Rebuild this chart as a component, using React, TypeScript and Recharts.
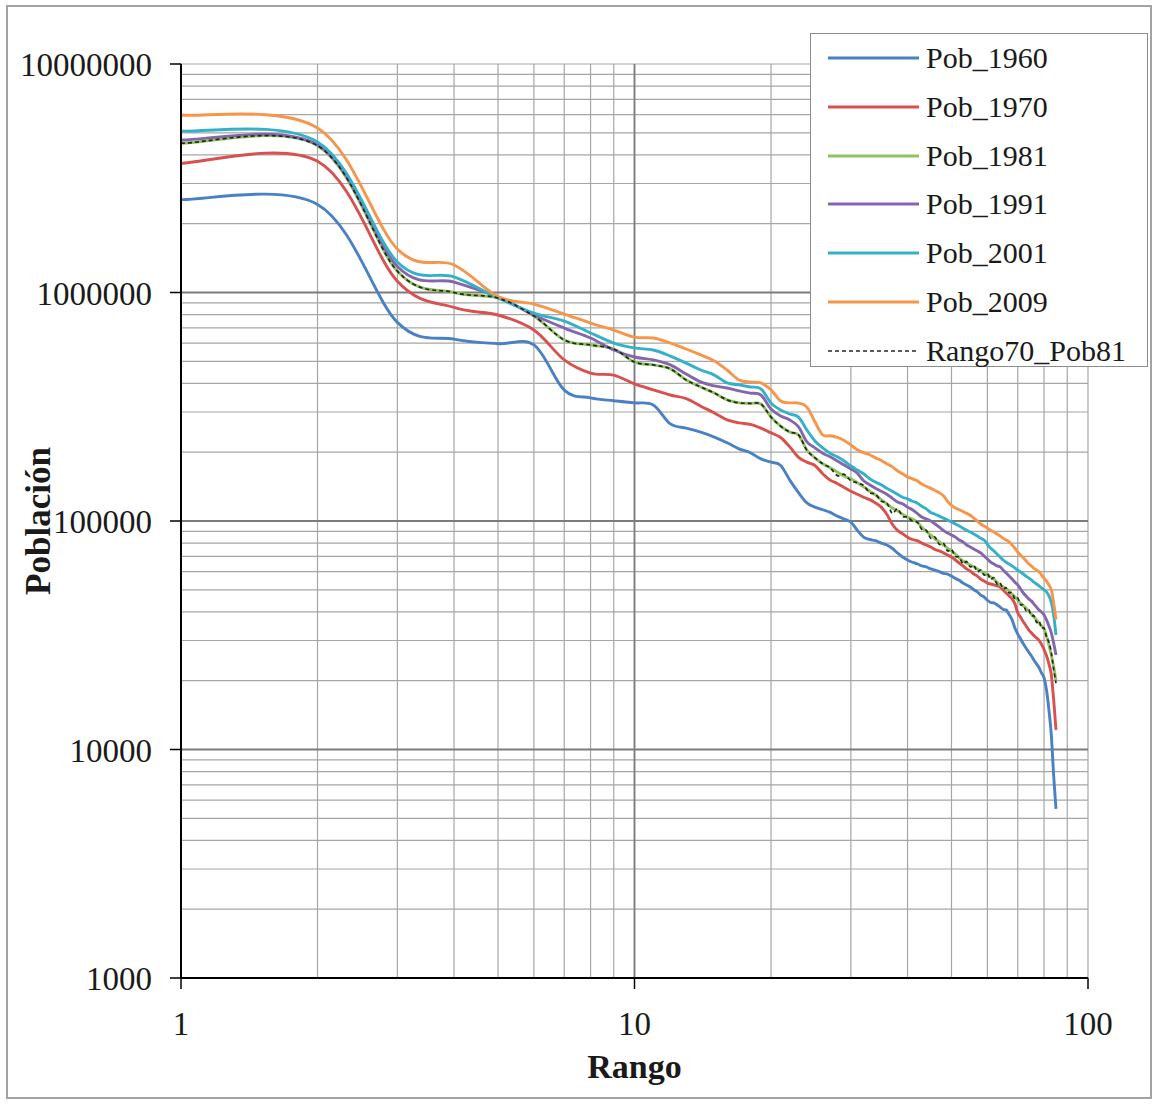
import { LineChart, Line, XAxis, YAxis, CartesianGrid, Legend, Label, ReferenceLine } from 'recharts';

/**
 * Rank-size chart: población por rango (log-log)
 */

const SERIF = '"Liberation Serif", "Times New Roman", serif';

const RANKS = [
  1, 2, 3, 4, 5, 6, 7, 8, 9, 10, 11, 12, 13, 14, 15, 16, 17, 18, 19, 20,
  21, 22, 23, 24, 25, 26, 27, 28, 29, 30, 31, 32, 33, 34, 35, 36, 37, 38, 39, 40,
  41, 42, 43, 44, 45, 46, 47, 48, 49, 50, 51, 52, 53, 54, 55, 56, 57, 58, 59, 60,
  61, 62, 63, 64, 65, 66, 67, 68, 69, 70, 71, 72, 73, 74, 75, 76, 77, 78, 79, 80,
  81, 82, 83, 84, 85,
];

const POB_1960 = [
  2550000, 2430000, 740000, 625000, 597000, 590000, 374000, 346000, 336000, 329000,
  322000, 266000, 255000, 245000, 233000, 220000, 207000, 199000, 187000, 181000,
  175000, 151000, 133000, 120000, 115000, 112000, 109000, 105000, 102000, 99000,
  91000, 85000, 83000, 82000, 80000, 78500, 76000, 72500, 69600, 67500,
  66000, 65000, 63600, 63000, 61700, 61000, 60000, 59000, 58600, 57400,
  56000, 55000, 53500, 52500, 51400, 50000, 49000, 47400, 46500, 45000,
  44000, 43800, 43000, 42000, 41000, 40800, 39000, 37000, 34000, 32000,
  30500, 29000, 27800, 26700, 25700, 24600, 23700, 22800, 21600, 20600,
  18200, 14900, 11600, 7700, 5500,
];

const POB_1970 = [
  3680000, 3750000, 1120000, 860000, 797000, 685000, 507000, 444000, 435000, 398000,
  375000, 356000, 343000, 318000, 297000, 277000, 269000, 265000, 255000, 243000,
  232000, 211000, 190000, 181000, 175000, 161000, 151000, 146000, 140000, 135000,
  131000, 127000, 124000, 120000, 115000, 107000, 97000, 91000, 88000, 85000,
  83000, 82000, 80000, 78500, 77000, 75000, 74000, 72500, 71000, 69600,
  67500, 65500, 63600, 61700, 60400, 58600, 57400, 55700, 54600, 53500,
  53000, 52500, 52000, 51400, 49900, 48400, 47000, 45600, 43400, 39600,
  38000, 36200, 34800, 33400, 32400, 31500, 30800, 30000, 28800, 27400,
  25700, 23700, 21300, 16500, 12200,
];

const POB_1981 = [
  4500000, 4390000, 1240000, 1000000, 946000, 789000, 620000, 589000, 566000, 496000,
  482000, 463000, 414000, 386000, 363000, 339000, 329000, 327000, 325000, 285000,
  260000, 245000, 238000, 204000, 189000, 178000, 171000, 164000, 157000, 153000,
  147000, 141000, 135000, 130000, 124000, 119000, 114000, 111000, 107000, 104000,
  102000, 99000, 94000, 90000, 86800, 83400, 81000, 78500, 76200, 73900,
  71700, 68900, 66800, 65500, 64200, 63000, 61700, 60400, 59200, 58000,
  56900, 55700, 54000, 52500, 51400, 50400, 49400, 47900, 46500, 45100,
  43800, 42500, 41600, 40400, 39200, 38000, 36900, 35800, 34700, 33700,
  31400, 28700, 25900, 23000, 20100,
];

const POB_1991 = [
  4650000, 4430000, 1300000, 1110000, 956000, 797000, 699000, 632000, 560000, 522000,
  507000, 482000, 440000, 406000, 390000, 382000, 371000, 363000, 356000, 309000,
  288000, 277000, 258000, 222000, 209000, 198000, 191000, 183000, 176000, 169000,
  162000, 150000, 144000, 139000, 135000, 131000, 126000, 121000, 119000, 115000,
  112000, 108000, 104000, 102000, 100000, 97000, 94000, 91000, 88600, 86800,
  85000, 82600, 81000, 78500, 77000, 75400, 73900, 72500, 70300, 68200,
  66000, 64800, 63600, 63000, 61000, 59200, 57400, 55700, 54000, 52500,
  50400, 48400, 47000, 45600, 44700, 43300, 42000, 40800, 40000, 38800,
  36900, 34700, 32400, 29200, 25900,
];

const POB_2001 = [
  5090000, 4560000, 1360000, 1170000, 946000, 813000, 750000, 665000, 601000, 572000,
  560000, 527000, 491000, 458000, 435000, 402000, 394000, 386000, 379000, 328000,
  306000, 294000, 285000, 250000, 224000, 209000, 198000, 191000, 183000, 174000,
  167000, 161000, 153000, 148000, 144000, 139000, 135000, 131000, 127000, 125000,
  122000, 120000, 116000, 113000, 109000, 107000, 105000, 103000, 101000, 99000,
  97000, 95000, 93000, 91000, 89500, 87700, 86000, 84000, 82600, 79000,
  76000, 74000, 71700, 69600, 67500, 66000, 64800, 63600, 62300, 61000,
  59800, 58600, 57400, 56300, 55200, 54000, 53000, 52000, 51000, 50000,
  49000, 47000, 44000, 38800, 31700,
];

const POB_2009 = [
  5980000, 5250000, 1550000, 1320000, 960000, 890000, 805000, 735000, 685000, 638000,
  632000, 601000, 566000, 533000, 502000, 458000, 414000, 406000, 402000, 375000,
  335000, 329000, 328000, 315000, 271000, 238000, 236000, 232000, 225000, 215000,
  205000, 199000, 195000, 189000, 184000, 178000, 173000, 166000, 161000, 156000,
  153000, 150000, 145000, 142000, 139000, 136000, 133000, 129000, 122000, 117000,
  114000, 112000, 110000, 108000, 106000, 103000, 100000, 97000, 95000, 93000,
  91000, 89500, 87700, 86000, 84000, 82600, 81000, 78500, 76000, 73000,
  71000, 69000, 67000, 65000, 63600, 62000, 61000, 60000, 58000, 56000,
  54600, 52500, 50000, 43800, 37000,
];

const RANGO70_POB81 = [
  4500000, 4390000, 1240000, 1000000, 946000, 789000, 620000, 589000, 566000, 496000,
  482000, 463000, 414000, 386000, 363000, 339000, 329000, 327000, 325000, 285000,
  260000, 245000, 238000, 204000, 189000, 178000, 171000, 158000, 160000, 150000,
  147000, 143000, 133000, 131000, 122000, 120000, 108000, 113000, 105000, 104000,
  100000, 99000, 92000, 91000, 84000, 85000, 79000, 80000, 74000, 75000,
  70000, 69500, 65000, 66500, 63000, 64000, 60000, 61000, 58000, 59000,
  55500, 56500, 53000, 53500, 50500, 51000, 48500, 48500, 45500, 46000,
  43000, 43000, 40500, 41000, 38500, 38500, 36000, 36500, 34000, 34000,
  31000, 29500, 26500, 22500, 19500,
];

// axis ticks: gridlines at every tick, labels only on the decades
const X_TICKS = [1, 2, 3, 4, 5, 6, 7, 8, 9, 10, 20, 30, 40, 50, 60, 70, 80, 90, 100];
const X_LABELS = [1, 10, 100];
const Y_TICKS = [
  1000, 2000, 3000, 4000, 5000, 6000, 7000, 8000, 9000,
  10000, 20000, 30000, 40000, 50000, 60000, 70000, 80000, 90000,
  100000, 200000, 300000, 400000, 500000, 600000, 700000, 800000, 900000,
  1000000, 2000000, 3000000, 4000000, 5000000, 6000000, 7000000, 8000000, 9000000,
  10000000,
];
const Y_LABELS = [1000, 10000, 100000, 1000000, 10000000];

const SERIES = [
  { key: 'pob1960', name: 'Pob_1960', color: '#4a81c4', dash: undefined },
  { key: 'pob1970', name: 'Pob_1970', color: '#d9514e', dash: undefined },
  { key: 'pob1981', name: 'Pob_1981', color: '#92c25c', dash: undefined },
  { key: 'pob1991', name: 'Pob_1991', color: '#8466ad', dash: undefined },
  { key: 'pob2001', name: 'Pob_2001', color: '#35b0c9', dash: undefined },
  { key: 'pob2009', name: 'Pob_2009', color: '#f7954a', dash: undefined },
  { key: 'rango70', name: 'Rango70_Pob81', color: '#1f2a1f', dash: '4 3' },
];

const data = RANKS.map((rank, i) => ({
  rank,
  pob1960: POB_1960[i],
  pob1970: POB_1970[i],
  pob1981: POB_1981[i],
  pob1991: POB_1991[i],
  pob2001: POB_2001[i],
  pob2009: POB_2009[i],
  rango70: RANGO70_POB81[i],
}));

// Excel-style smoothed line (bezier through every point, tangents from neighbours)
function excelSmooth(context: any) {
  let xs: number[] = [];
  let ys: number[] = [];
  return {
    areaStart() {},
    areaEnd() {},
    lineStart() {
      xs = [];
      ys = [];
    },
    lineEnd() {
      const n = xs.length;
      if (!n) return;
      context.moveTo(xs[0], ys[0]);
      for (let i = 0; i < n - 1; i++) {
        const a = Math.max(i - 1, 0);
        const d = Math.min(i + 2, n - 1);
        context.bezierCurveTo(
          xs[i] + (xs[i + 1] - xs[a]) / 6,
          ys[i] + (ys[i + 1] - ys[a]) / 6,
          xs[i + 1] - (xs[d] - xs[i]) / 6,
          ys[i + 1] - (ys[d] - ys[i]) / 6,
          xs[i + 1],
          ys[i + 1],
        );
      }
    },
    point(x: number, y: number) {
      xs.push(+x);
      ys.push(+y);
    },
  };
}

const XTick = (props: any) => {
  const { x, y, payload } = props;
  if (!X_LABELS.includes(payload.value)) return <g />;
  return (
    <g>
      <line x1={x} x2={x} y1={y} y2={y + 11} stroke="#000" strokeWidth={1.5} />
      <text x={x} y={y + 57} textAnchor="middle" fontSize={33} fontFamily={SERIF} fill="#1a1a1a">
        {String(payload.value)}
      </text>
    </g>
  );
};

const YTick = (props: any) => {
  const { x, y, payload } = props;
  if (!Y_LABELS.includes(payload.value)) return <g />;
  return (
    <g>
      <line x1={x - 11} x2={x} y1={y} y2={y} stroke="#000" strokeWidth={1.5} />
      <text x={x - 29} y={y + 12} textAnchor="end" fontSize={33} fontFamily={SERIF} fill="#1a1a1a">
        {String(payload.value)}
      </text>
    </g>
  );
};

const LegendBox = () => (
  <div
    style={{
      width: 338,
      height: 334,
      boxSizing: 'border-box',
      border: '1.5px solid #8c8c8c',
      background: '#fff',
      fontFamily: SERIF,
      fontSize: 30,
      color: '#1a1a1a',
      position: 'relative',
    }}
  >
    {SERIES.map((s, i) => (
      <div
        key={s.key}
        style={{ position: 'absolute', left: 0, top: 24 + i * 48.8 - 20, height: 40, display: 'flex', alignItems: 'center' }}
      >
        <svg width={108} height={8} style={{ display: 'block' }}>
          <line
            x1={17}
            x2={108}
            y1={4}
            y2={4}
            stroke={s.color}
            strokeWidth={s.dash ? 1.6 : 3}
            strokeDasharray={s.dash}
          />
        </svg>
        <span style={{ marginLeft: 7, whiteSpace: 'nowrap' }}>{s.name}</span>
      </div>
    ))}
  </div>
);

export default function App() {
  return (
    <div style={{ position: 'relative', width: 1159, height: 1104, background: '#fff' }}>
      <style>{'body{margin:0;}'}</style>
      <div
        style={{
          position: 'absolute',
          left: 6,
          top: 5,
          width: 1146,
          height: 1094,
          border: '2px solid #a3a3a3',
          boxSizing: 'border-box',
        }}
      />
      <div style={{ position: 'absolute', left: 0, top: 0 }}>
        <LineChart width={1159} height={1104} data={data} margin={{ top: 64, right: 71, left: 11, bottom: 16 }}>
          <CartesianGrid stroke="#a6a6a6" strokeWidth={1.2} />
          <XAxis
            dataKey="rank"
            type="number"
            scale="log"
            domain={[1, 100]}
            ticks={X_TICKS}
            interval={0}
            tick={<XTick />}
            tickLine={false}
            tickSize={0}
            tickMargin={0}
            height={110}
            axisLine={{ stroke: '#000', strokeWidth: 2 }}
          >
            <Label
              value="Rango"
              position="insideBottom"
              offset={10}
              style={{ fontFamily: SERIF, fontSize: 34, fontWeight: 700, fill: '#1a1a1a' }}
            />
          </XAxis>
          <YAxis
            type="number"
            scale="log"
            domain={[1000, 10000000]}
            ticks={Y_TICKS}
            interval={0}
            tick={<YTick />}
            tickLine={false}
            tickSize={0}
            tickMargin={0}
            width={170}
            axisLine={{ stroke: '#000', strokeWidth: 2 }}
          >
            <Label
              value="Población"
              angle={-90}
              position="insideLeft"
              offset={27}
              style={{ fontFamily: SERIF, fontSize: 35, fontWeight: 700, fill: '#1a1a1a', textAnchor: 'middle' }}
            />
          </YAxis>
          <ReferenceLine x={10} stroke="#7c7c7c" strokeWidth={1.8} />
          <ReferenceLine y={1000000} stroke="#7c7c7c" strokeWidth={1.8} />
          <ReferenceLine y={100000} stroke="#7c7c7c" strokeWidth={1.8} />
          <ReferenceLine y={10000} stroke="#7c7c7c" strokeWidth={1.8} />
          {SERIES.map((s) => (
            <Line
              key={s.key}
              dataKey={s.key}
              name={s.name}
              type={excelSmooth as any}
              stroke={s.color}
              strokeWidth={s.dash ? 1.7 : 2.9}
              strokeDasharray={s.dash}
              dot={false}
              activeDot={false}
              isAnimationActive={false}
            />
          ))}
          <Legend
            layout="vertical"
            align="center"
            verticalAlign="middle"
            wrapperStyle={{ left: 810, top: 33, width: 338, height: 334 }}
            content={<LegendBox />}
          />
        </LineChart>
      </div>
    </div>
  );
}
